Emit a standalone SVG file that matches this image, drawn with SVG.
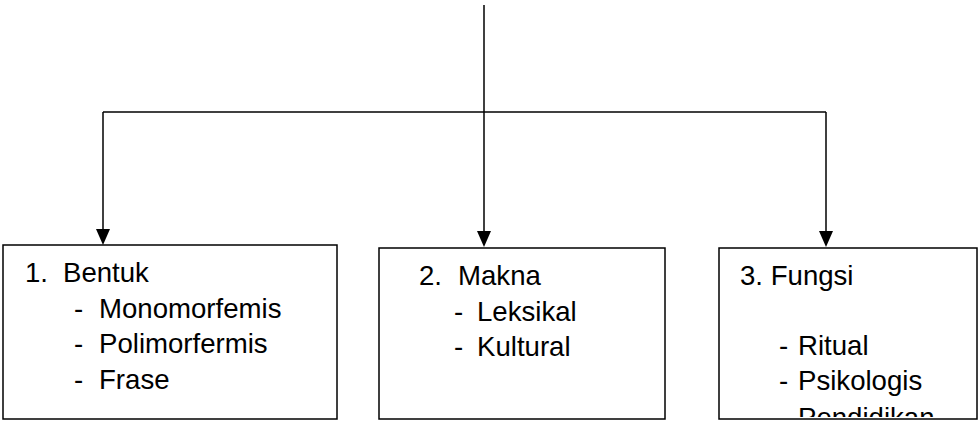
<svg xmlns="http://www.w3.org/2000/svg" width="979" height="421" viewBox="0 0 979 421">
  <style>
    .box { fill: #ffffff; stroke: #000000; stroke-width: 1.5; }
    .line { fill: none; stroke: #000000; stroke-width: 1.5; }
    .head { fill: #000000; }
    text { font-family: "Liberation Sans", Arial, sans-serif; font-size: 27.6px; fill: #000000; }
  </style>
  <defs>
    <clipPath id="clip3"><rect x="720" y="249" width="256" height="168"/></clipPath>
  </defs>

  <g id="connectors">
    <path class="line" d="M484 5 V112"/>
    <path class="line" d="M103 112 H826"/>
    <path class="line" d="M103 112 V240"/>
    <path class="line" d="M484 112 V242"/>
    <path class="line" d="M826 112 V242"/>
    <path class="head" d="M96 229 L110 229 L103 245 Z"/>
    <path class="head" d="M477 231 L491 231 L484 247 Z"/>
    <path class="head" d="M819 231 L833 231 L826 247 Z"/>
  </g>

  <g id="node-bentuk">
    <rect class="box" x="3" y="245" width="334" height="174"/>
    <text x="25" y="282">1.</text>
    <text x="63" y="282">Bentuk</text>
    <text x="74" y="318">-</text>
    <text x="99" y="318">Monomorfemis</text>
    <text x="74" y="353">-</text>
    <text x="99" y="353">Polimorfermis</text>
    <text x="74" y="389">-</text>
    <text x="99" y="389">Frase</text>
  </g>

  <g id="node-makna">
    <rect class="box" x="379" y="248" width="286" height="171"/>
    <text x="419" y="285">2.</text>
    <text x="458" y="285">Makna</text>
    <text x="454" y="321">-</text>
    <text x="477" y="321">Leksikal</text>
    <text x="454" y="356">-</text>
    <text x="477" y="356">Kultural</text>
  </g>

  <g id="node-fungsi">
    <rect class="box" x="719" y="248" width="258" height="171"/>
    <text x="740" y="285">3. Fungsi</text>
    <text x="779" y="355">-</text>
    <text x="798" y="355">Ritual</text>
    <text x="779" y="390">-</text>
    <text x="798" y="390">Psikologis</text>
    <g clip-path="url(#clip3)">
      <text x="779" y="427">-</text>
      <text x="798" y="427">Pendidikan</text>
    </g>
  </g>
</svg>
